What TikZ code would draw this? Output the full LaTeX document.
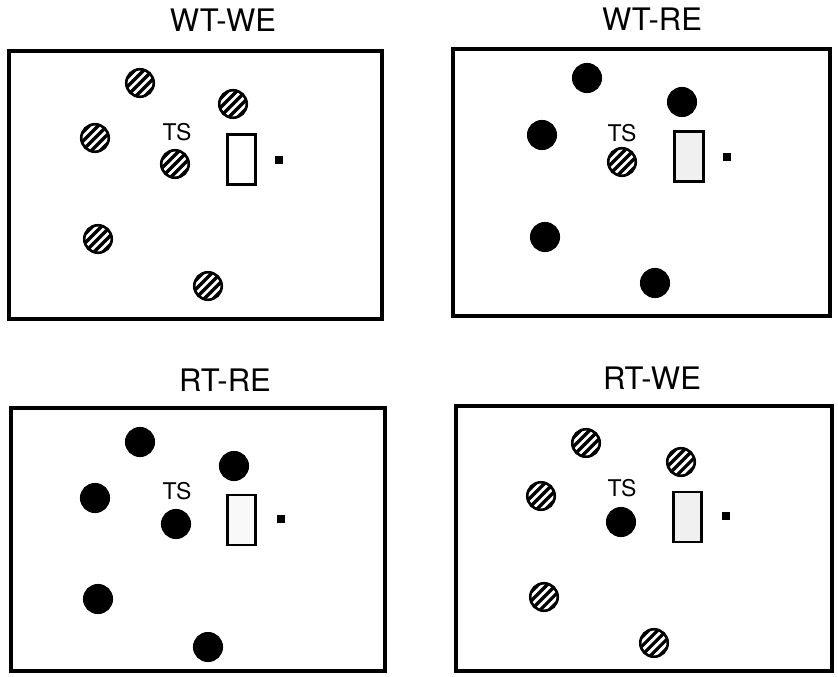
\documentclass[tikz,border=0pt]{standalone}
\usepackage{fontspec}
\setmainfont{TeX Gyre Heros}
\usetikzlibrary{calc}
\begin{document}
\begin{tikzpicture}[x=1pt,y=-1pt,
  frame/.style={line width=4pt},
  ball/.style={circle,draw,line width=2.6pt,minimum size=27.5pt,inner sep=0pt},
  solidball/.style={ball,fill=black},
  hatched/.style={ball,fill=white,path picture={
      \foreach \d in {-36,-27,...,36}{
        \draw[line width=3.2pt] ($(path picture bounding box.center)+(\d pt,0pt)+(-25pt,-25pt)$) -- ++(50pt,50pt);
      }}},
  box/.style={rectangle,draw,line width=2.6pt,minimum width=28.5pt,minimum height=50pt,inner sep=0pt},
  dot/.style={rectangle,fill=black,minimum size=8pt,inner sep=0pt},
  title/.style={font=\fontsize{31}{36}\selectfont,inner sep=0pt},
  tslabel/.style={font=\fontsize{23}{27}\selectfont,inner sep=0pt}
]
\useasboundingbox (0,0) rectangle (838,677);

% ---------- Panel 1: WT-WE ----------
\node[title] (t1) at (223,20) {WT-WE};
\draw[frame] (9,51) rectangle (382,319);
\node[hatched] (a1) at (140,83) {};
\node[hatched] (a2) at (233,104) {};
\node[hatched] (a3) at (95,138) {};
\node[hatched] (a4) at (175,164) {};
\node[hatched] (a5) at (98,239) {};
\node[hatched] (a6) at (208,286) {};
\node[tslabel] (ats) at (177,132) {TS};
\node[box,fill=white] (abox) at (241.5,159.5) {};
\node[dot] (adot) at (279,160) {};

% ---------- Panel 2: WT-RE ----------
\node[title] (t2) at (652,19) {WT-RE};
\draw[frame] (453,49) rectangle (830,316);
\node[solidball] (b1) at (587,78) {};
\node[solidball] (b2) at (682,102) {};
\node[solidball] (b3) at (542,135) {};
\node[hatched] (b4) at (622,162) {};
\node[solidball] (b5) at (545,237) {};
\node[solidball] (b6) at (655,283) {};
\node[tslabel] (bts) at (622,133) {TS};
\node[box,fill=gray!12] (bbox) at (689,156.5) {};
\node[dot] (bdot) at (727,157) {};

% ---------- Panel 3: RT-RE ----------
\node[title] (t3) at (225,380) {RT-RE};
\draw[frame] (11,408) rectangle (385,671);
\node[solidball] (c1) at (140,442) {};
\node[solidball] (c2) at (234,466) {};
\node[solidball] (c3) at (95,498) {};
\node[solidball] (c4) at (176,524) {};
\node[solidball] (c5) at (98,599) {};
\node[solidball] (c6) at (208,647) {};
\node[tslabel] (cts) at (177,491) {TS};
\node[box,fill=gray!5] (cbox) at (241.5,520) {};
\node[dot] (cdot) at (281,519) {};

% ---------- Panel 4: RT-WE ----------
\node[title] (t4) at (652,378) {RT-WE};
\draw[frame] (456,406) rectangle (832,671);
\node[hatched] (d1) at (586,443) {};
\node[hatched] (d2) at (681,462) {};
\node[hatched] (d3) at (541,496) {};
\node[solidball] (d4) at (621,522) {};
\node[hatched] (d5) at (544,597) {};
\node[hatched] (d6) at (654,643) {};
\node[tslabel] (dts) at (622,488) {TS};
\node[box,fill=gray!12] (dbox) at (687.5,517) {};
\node[dot] (ddot) at (726,516) {};
\end{tikzpicture}
\end{document}
